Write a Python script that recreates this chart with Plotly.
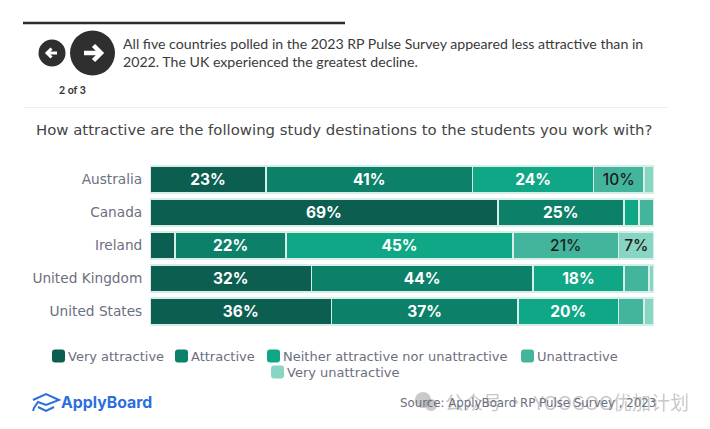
import plotly.graph_objects as go

# ==========================
# DATA
# ==========================

countries = ["Australia", "Canada", "Ireland", "United Kingdom", "United States"]

very_attractive = [23, 69, 5, 32, 36]
attractive = [41, 25, 22, 44, 37]
neither = [24, 3, 45, 18, 20]
unattractive = [10, 3, 21, 5, 5]
very_unattractive = [2, 0, 7, 1, 2]

series_names = ["Very attractive", "Attractive", "Neither attractive nor unattractive",
                "Unattractive", "Very unattractive"]
series_values = [very_attractive, attractive, neither, unattractive, very_unattractive]
series_colors = ["#0b5e50", "#0c8068", "#0fa785", "#42b59c", "#88d5c3"]
label_colors = ["white", "white", "white", "#1c1c1c", "#1c1c1c"]

W = 710
H = 429
MAIN_FONT = "DejaVu Sans"
BAR_FONT = "Inter"
COPY_FONT = "Lato"

# ==========================
# BARS
# ==========================

fig = go.Figure()

for name, values, color, label_color in zip(series_names, series_values, series_colors, label_colors):
    fig.add_trace(go.Bar(
        name=name,
        y=countries,
        x=values,
        orientation="h",
        marker=dict(color=color, line=dict(color="#d6eee8", width=1.5)),
        text=[f"{v}%" if v >= 7 else "" for v in values],
        textposition="inside",
        insidetextanchor="middle",
        textangle=0,
        insidetextfont=dict(family=BAR_FONT, size=15.5, color=label_color,
                            weight=500 if label_color != "white" else 700),
        showlegend=False,
    ))

# ==========================
# PAGE FURNITURE
# ==========================


def px(x):
    return x / W


def py(y):
    return 1 - y / H


def text(x, y, s, size, color, family=MAIN_FONT, anchor="left", weight=400):
    # annotations carry about 2px of padding, so pull left-anchored text back
    if anchor == "left":
        x = x - 2
    fig.add_annotation(x=px(x), y=py(y), xref="paper", yref="paper", text=s, showarrow=False,
                       xanchor=anchor, yanchor="middle", align=anchor,
                       font=dict(family=family, size=size, color=color, weight=weight))


def rule(x0, x1, y, color, width):
    fig.add_shape(type="line", xref="paper", yref="paper", x0=px(x0), x1=px(x1), y0=py(y), y1=py(y),
                  line=dict(color=color, width=width))


def circle(cx, cy, r, color):
    fig.add_shape(type="circle", xref="paper", yref="paper", x0=px(cx - r), x1=px(cx + r),
                  y0=py(cy - r), y1=py(cy + r), fillcolor=color, line_width=0)


def polyline(points, color, width):
    d = "M" + " L".join(f"{px(x):.5f},{py(y):.5f}" for x, y in points)
    fig.add_shape(type="path", xref="paper", yref="paper", path=d,
                  line=dict(color=color, width=width))


def swatch(x, y, size, color):
    # small square with rounded corners
    r = 3
    x1 = x + size
    y1 = y + size
    d = (f"M{px(x + r):.5f},{py(y):.5f} L{px(x1 - r):.5f},{py(y):.5f} "
         f"Q{px(x1):.5f},{py(y):.5f} {px(x1):.5f},{py(y + r):.5f} "
         f"L{px(x1):.5f},{py(y1 - r):.5f} Q{px(x1):.5f},{py(y1):.5f} {px(x1 - r):.5f},{py(y1):.5f} "
         f"L{px(x + r):.5f},{py(y1):.5f} Q{px(x):.5f},{py(y1):.5f} {px(x):.5f},{py(y1 - r):.5f} "
         f"L{px(x):.5f},{py(y + r):.5f} Q{px(x):.5f},{py(y):.5f} {px(x + r):.5f},{py(y):.5f} Z")
    fig.add_shape(type="path", xref="paper", yref="paper", path=d, fillcolor=color, line_width=0)


rule(23, 345, 23, "#2d2d2d", 2.5)
rule(24, 667, 107.5, "#eeeeee", 1)

circle(52, 53, 13.5, "#2f2f2f")
polyline([(47, 53), (57, 53)], "white", 3)
polyline([(51.5, 48.5), (47, 53), (51.5, 57.5)], "white", 3)
circle(92.5, 53, 22.5, "#2f2f2f")
polyline([(84, 53), (101, 53)], "white", 4.5)
polyline([(93.5, 45.5), (101, 53), (93.5, 60.5)], "white", 4.5)

text(72, 90, "2 of 3", 10.5, "#333333", COPY_FONT, "center", 700)
text(123, 43, "All five countries polled in the 2023 RP Pulse Survey appeared less attractive than in",
     14.15, "#3a3a3a", COPY_FONT)
text(123, 61.5, "2022. The UK experienced the greatest decline.", 14.15, "#3a3a3a", COPY_FONT)
text(36, 130, "How attractive are the following study destinations to the students you work with?",
     14.9, "#444444", MAIN_FONT)

# legend, wrapped by hand as in the original
legend_items = [(52, 356), (175, 356), (267, 356), (521, 356), (271, 372)]
for (lx, ly), name, color in zip(legend_items, series_names, series_colors):
    swatch(lx, ly - 6.5, 13, color)
    text(lx + 16, ly + 0.5, name, 13, "#6b6f80")

# logo
polyline([(33, 400), (46, 394), (59, 400), (46, 405), (38, 402), (34, 408), (33, 411)], "#2b6fdc", 2)
polyline([(38, 407), (46, 411), (54, 407)], "#2b6fdc", 2)
text(61, 402, "ApplyBoard", 15.8, "#2b6fdc", BAR_FONT, weight=700)

# watermark sitting under the source line
circle(423, 400, 8, "rgba(150,150,150,0.5)")
circle(431, 405, 6, "rgba(150,150,150,0.5)")
text(445, 401, "公众号 ·  YOOGOO优加计划", 19, "rgba(130,130,130,0.45)", "Noto Sans CJK SC")

text(400, 403, "Source: ApplyBoard RP Pulse Survey , 2023", 11.8, "#6b6f80")

# ==========================
# LAYOUT
# ==========================

fig.update_layout(
    barmode="stack",
    bargap=0.18,
    width=W,
    height=H,
    margin=dict(l=0, r=0, t=0, b=0),
    paper_bgcolor="white",
    plot_bgcolor="white",
    xaxis=dict(domain=[150 / W, 654 / W], range=[0, 100], visible=False),
    yaxis=dict(
        domain=[1 - 328 / H, 1 - 163 / H],
        autorange="reversed",
        showgrid=False,
        showline=False,
        ticks="outside",
        ticklen=4,
        tickcolor="rgba(0,0,0,0)",
        tickfont=dict(family=MAIN_FONT, size=13.7, color="#6b6f80"),
    ),
)

# page margin off so the figure fills the window
fig.write_html("out.html", config={"displayModeBar": False},
               post_script="document.body.style.margin='0';")
